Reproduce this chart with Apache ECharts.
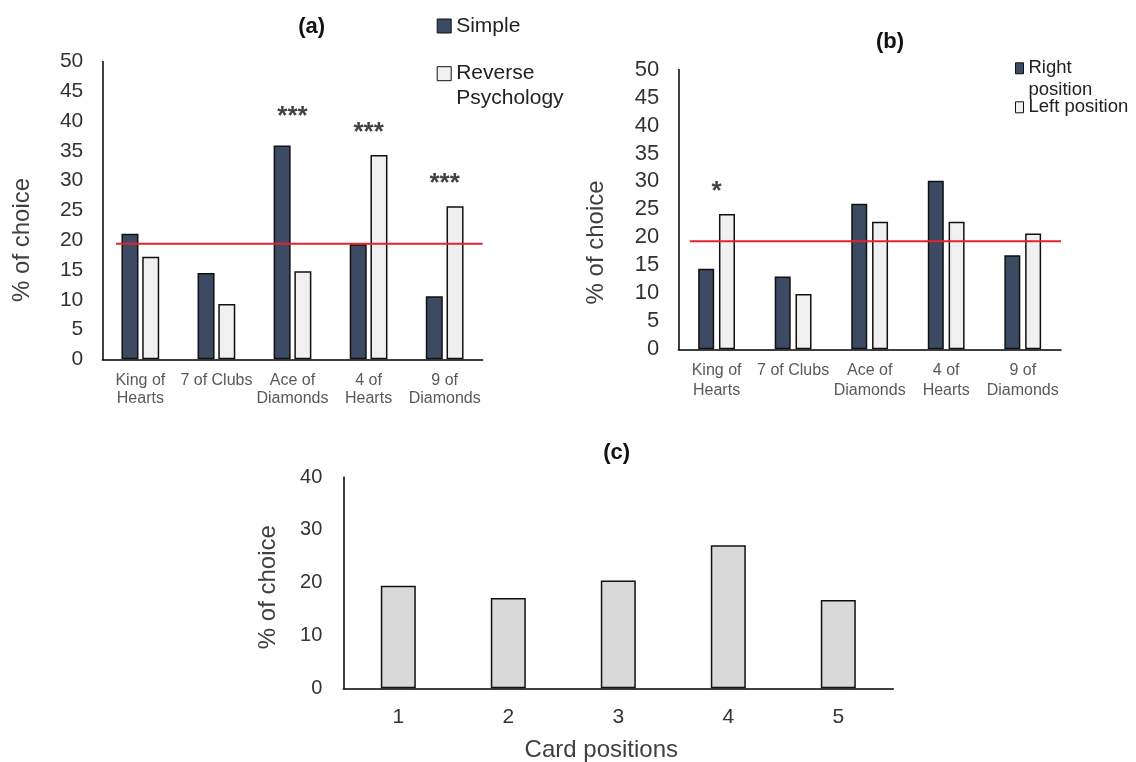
<!DOCTYPE html>
<html>
<head>
<meta charset="utf-8">
<script src="https://cdn.jsdelivr.net/npm/echarts@6/dist/echarts.min.js"></script>
<style>
html,body{margin:0;padding:0;background:#fff;}
#chart{width:1136px;height:762px;}
</style>
</head>
<body>
<div id="chart"></div>
<script>
// ---- data ----
const cardCategories = ['King of\nHearts', '7 of Clubs', 'Ace of\nDiamonds', '4 of\nHearts', '9 of\nDiamonds'];
const namesA = ['Simple', 'Reverse\nPsychology'];
const simpleA = [21.1, 14.5, 35.9, 19.3, 10.6];
const reverseA = [17.2, 9.3, 14.8, 34.3, 25.7];
const starTextA = ['', '', '***', '***', '***'];
const starLevelA = [null, null, 41.6, 39.0, 30.4];
const chanceA = 19.4;
const chanceSpanA = [0.18, 5];

const namesB = ['Right\nposition', 'Left position'];
const rightB = [14.4, 13.0, 26.0, 30.1, 16.8];
const leftB = [24.2, 9.9, 22.8, 22.8, 20.7];
const starTextB = ['*', '', '', '', ''];
const starLevelB = [29.2, null, null, null, null];
const chanceB = 19.3;
const chanceSpanB = [0.15, 5];

const positionsC = ['1', '2', '3', '4', '5'];
const valuesC = [19.4, 17.1, 20.4, 27.1, 16.7];

const titles = ['(a)', '(b)', '(c)'];
const yName = '% of choice';
const xNameC = 'Card positions';

// ---- styling ----
const FF = 'Liberation Sans, Arial, sans-serif';
const DARK = '#3c4a63';
const LIGHT = '#f0f0f0';
const GREY = '#d9d9d9';
const EDGE = '#111';
const RED = '#e3232f';

const chart = echarts.init(document.getElementById('chart'), null, {renderer: 'canvas'});

function catAxis(gridIndex, data, label, extra) {
  return Object.assign({
    type: 'category', gridIndex: gridIndex, data: data,
    axisLine: {lineStyle: {color: '#000', width: 1.5}},
    axisTick: {show: false},
    axisLabel: Object.assign({interval: 0, fontFamily: FF, color: '#595959'}, label)
  }, extra || {});
}
function hiddenX(gridIndex) {
  return {type: 'value', gridIndex: gridIndex, min: 0, max: 5, show: false};
}
function valAxis(gridIndex, max, interval, fs, margin, gap, pad) {
  return {
    type: 'value', gridIndex: gridIndex, min: 0, max: max, interval: interval,
    axisLine: {show: true, lineStyle: {color: '#000', width: 1.5}},
    axisTick: {show: false}, splitLine: {show: false},
    axisLabel: {fontFamily: FF, fontSize: fs, color: '#333', margin: margin},
    name: yName, nameLocation: 'middle', nameRotate: 90, nameGap: gap,
    nameTextStyle: {fontFamily: FF, fontSize: 24, color: '#404040', padding: [0, pad, 0, 0]}
  };
}
function barSeries(name, data, xi, yi, color, width, gap) {
  return {
    type: 'bar', name: name, data: data, xAxisIndex: xi, yAxisIndex: yi,
    barWidth: width, barGap: gap,
    itemStyle: {color: color, borderColor: EDGE, borderWidth: 1.5},
    silent: true
  };
}
function chanceSeries(span, level, xi, yi) {
  return {
    type: 'line', data: [[span[0], level], [span[1], level]], xAxisIndex: xi, yAxisIndex: yi,
    symbol: 'none', lineStyle: {color: RED, width: 2}, silent: true, z: 5
  };
}
function starSeries(levels, texts, xi, yi) {
  return {
    type: 'scatter', data: levels, xAxisIndex: xi, yAxisIndex: yi,
    symbol: 'circle', symbolSize: 1, itemStyle: {color: 'rgba(0,0,0,0)'}, silent: true, z: 6,
    label: {show: true, position: 'inside', offset: [0, 5.5], formatter: function (p) { return texts[p.dataIndex]; },
      fontFamily: FF, fontSize: 26, fontWeight: 'bold', color: '#111'}
  };
}
function titleAt(text, x, y) {
  return {text: text, left: x, top: y, textAlign: 'center', textVerticalAlign: 'middle', padding: 0,
    textStyle: {fontFamily: FF, fontSize: 22, fontWeight: 'bold', color: '#111'}};
}
// one legend entry per component; multi-line names get an empty first line so the
// symbol lines up with the first text line
function legendItem(name, left, top, w, h, fs, lh) {
  return {
    orient: 'vertical', left: left, top: top, padding: 0, itemWidth: w, itemHeight: h,
    selectedMode: false, icon: 'rect',
    formatter: function (n) { return n.indexOf('\n') >= 0 ? '\n' + n : n; },
    textStyle: {fontFamily: FF, fontSize: fs, color: '#222', lineHeight: lh},
    itemStyle: {borderColor: EDGE, borderWidth: 1},
    data: [name]
  };
}

const option = {
  backgroundColor: '#fff',
  animation: false,
  title: [titleAt(titles[0], 311.7, 26.7), titleAt(titles[1], 890, 41.7), titleAt(titles[2], 616.7, 453.3)],
  legend: [
    legendItem(namesA[0], 436.7, 13.5, 14, 14, 21, 25),
    legendItem(namesA[1], 436.7, 36.2, 14, 14, 21, 25),
    legendItem(namesB[0], 1015, 35.3, 8, 11, 18.5, 22),
    legendItem(namesB[1], 1015, 96.8, 8, 11, 18.5, 21)
  ],
  grid: [
    {left: 102.3, top: 61.5, width: 380.4, height: 297.8, containLabel: false, outerBoundsMode: 'none'},
    {left: 678.3, top: 69.5, width: 382.7, height: 279.8, containLabel: false, outerBoundsMode: 'none'},
    {left: 343.3, top: 477, width: 550, height: 211.3, containLabel: false, outerBoundsMode: 'none'}
  ],
  xAxis: [
    catAxis(0, cardCategories, {fontSize: 16, lineHeight: 18.3, margin: 12}),
    hiddenX(0),
    catAxis(1, cardCategories, {fontSize: 16, lineHeight: 19.3, margin: 12}),
    hiddenX(1),
    catAxis(2, positionsC, {fontSize: 21, color: '#333', lineHeight: 21, margin: 18}, {
      name: xNameC, nameLocation: 'middle', nameGap: 50,
      nameTextStyle: {fontFamily: FF, fontSize: 24, color: '#404040', padding: [0, 34, 0, 0]}
    })
  ],
  yAxis: [
    valAxis(0, 50, 5, 21, 19, 67.6, 59),
    valAxis(1, 50, 5, 22, 19, 69.6, 66),
    valAxis(2, 40, 10, 20, 21, 63, 9)
  ],
  series: [
    barSeries(namesA[0], simpleA, 0, 0, DARK, 17, '22%'),
    barSeries(namesA[1], reverseA, 0, 0, LIGHT, 17, '22%'),
    chanceSeries(chanceSpanA, chanceA, 1, 0),
    starSeries(starLevelA, starTextA, 0, 0),
    barSeries(namesB[0], rightB, 2, 1, DARK, 16, '30%'),
    barSeries(namesB[1], leftB, 2, 1, LIGHT, 16, '30%'),
    chanceSeries(chanceSpanB, chanceB, 3, 1),
    starSeries(starLevelB, starTextB, 2, 1),
    barSeries('positions', valuesC, 4, 2, GREY, 35, '30%')
  ]
};
chart.setOption(option);
</script>
</body>
</html>
